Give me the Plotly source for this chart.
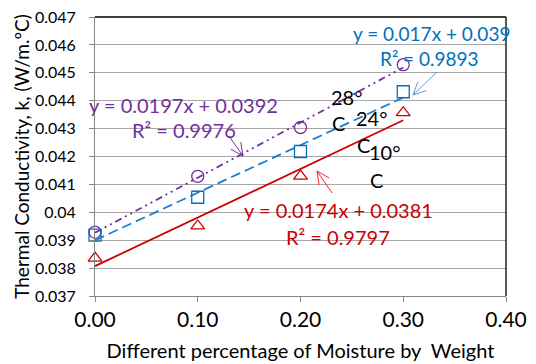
import math
import numpy as np
import plotly.graph_objects as go

# ---- data ----
moisture = [0.0, 0.1, 0.2, 0.3]
k_28C = [0.03929, 0.04129, 0.04304, 0.04529]
k_24C = [0.03918, 0.04054, 0.04218, 0.04432]
k_10C = [0.03836, 0.03951, 0.04130, 0.04357]

y_ticks = [0.037, 0.038, 0.039, 0.040, 0.041, 0.042, 0.043, 0.044, 0.045, 0.046, 0.047]
y_tick_text = ["0.037", "0.038", "0.039", "0.04", "0.041", "0.042", "0.043", "0.044", "0.045", "0.046", "0.047"]
x_ticks = [0.0, 0.1, 0.2, 0.3, 0.4]
x_tick_text = ["0.00", "0.10", "0.20", "0.30", "0.40"]

eq_28 = ["y = 0.0197x + 0.0392", "R² = 0.9976"]
eq_24 = ["y = 0.017x + 0.039", "R² = 0.9893"]
eq_10 = ["y = 0.0174x + 0.0381", "R² = 0.9797"]

PURPLE = "#7030A0"
BLUE = "#0070C0"
BLUE_LINE = "#1B7FCC"
RED = "#CC0000"
FONT = "Lato"

W, H = 536, 364
L, R, T, B = 95, 30, 17, 68
XR = [0, 0.4]
YR = [0.037, 0.047]
pw, ph = W - L - R, H - T - B


def px2d(px, py):
    return (XR[0] + (px - L) / pw * (XR[1] - XR[0]),
            YR[1] - (py - T) / ph * (YR[1] - YR[0]))


fig = go.Figure()

series = [
    (k_28C, PURPLE, PURPLE, "circle-open", "7px,4px,2px,4px,2px,4px"),
    (k_24C, BLUE, BLUE_LINE, "square-open", "10px,5px"),
    (k_10C, RED, RED, "triangle-up-open", "solid"),
]
xs = np.array(moisture)
for ys, mcol, lcol, sym, dash in series:
    slope, icpt = np.polyfit(xs, np.array(ys), 1)
    xfit = np.array([xs.min(), xs.max()])
    fig.add_trace(go.Scatter(x=xfit, y=slope * xfit + icpt, mode="lines",
                             line=dict(color=lcol, width=1.8, dash=dash),
                             showlegend=False, hoverinfo="skip"))
    fig.add_trace(go.Scatter(x=moisture, y=ys, mode="markers",
                             marker=dict(symbol=sym, size=12, color=mcol,
                                         line=dict(width=1.3, color=mcol)),
                             cliponaxis=False, showlegend=False))

annots = []


def add_text(px, py, text, color, size=20):
    x, y = px2d(px, py)
    annots.append(dict(x=x, y=y, xref="x", yref="y", text=text, showarrow=False,
                       font=dict(family=FONT, size=size, color=color),
                       xanchor="center", yanchor="middle"))


add_text(183, 105, eq_28[0], PURPLE)
add_text(184, 130, eq_28[1], PURPLE)
add_text(431, 33, eq_24[0], BLUE, size=19)
add_text(429, 58, eq_24[1], BLUE, size=19)
add_text(338, 210, eq_10[0], RED)
add_text(338, 237, eq_10[1], RED)

for px, py, t in [(347, 97, "28°"), (338, 123, "C"), (372, 118, "24°"), (363, 145, "C"),
                  (385, 152, "10°"), (376, 180, "C")]:
    add_text(px, py, t, "black", size=20)

shapes = []


def add_arrow(tail, tip, color, head=14):
    ang = math.atan2(tail[1] - tip[1], tail[0] - tip[0])
    pts = [tail]
    for da in (0.45, -0.45):
        pts.append((tip[0] + head * math.cos(ang + da), tip[1] + head * math.sin(ang + da)))
    segs = [(tail, tip), (pts[1], tip), (pts[2], tip)]
    for a, b in segs:
        x0, y0 = px2d(*a)
        x1, y1 = px2d(*b)
        shapes.append(dict(type="line", xref="x", yref="y", x0=x0, y0=y0, x1=x1, y1=y1,
                           line=dict(color=color, width=1)))


add_arrow((229, 136), (243, 156), PURPLE)
add_arrow((437, 72), (413, 95), "#5B9BD5")
add_arrow((332, 193), (317, 171), "#FF2020")

# top and right border of plot area
shapes.append(dict(type="line", xref="paper", yref="paper", x0=0, y0=1, x1=1, y1=1,
                   line=dict(color="black", width=1.3)))
shapes.append(dict(type="line", xref="paper", yref="paper", x0=1, y0=0, x1=1, y1=1,
                   line=dict(color="black", width=1.3)))

fig.update_layout(
    width=W, height=H,
    margin=dict(l=L, r=R, t=T, b=B, pad=0),
    paper_bgcolor="white", plot_bgcolor="white",
    font=dict(family=FONT, color="black"),
    annotations=annots, shapes=shapes,
    xaxis=dict(range=XR, tickvals=x_ticks, ticktext=x_tick_text, automargin=False,
               tickfont=dict(size=21, family=FONT), ticks="outside", ticklen=5,
               tickcolor="#868686", showline=True, linecolor="#868686", linewidth=1,
               showgrid=False, zeroline=False,
               title=dict(text="Different percentage of Moisture by  Weight",
                          font=dict(size=20, family=FONT), standoff=13)),
    yaxis=dict(range=YR, tickvals=y_ticks, ticktext=y_tick_text, automargin=False,
               tickfont=dict(size=16, family=FONT), ticks="outside", ticklen=5,
               ticklabelstandoff=10,
               tickcolor="#868686", showline=True, linecolor="#868686", linewidth=1,
               showgrid=True, gridcolor="#A6A6A6", gridwidth=1, zeroline=False,
               title=dict(text="Thermal Conductivity, k, (W/m.ºC)",
                          font=dict(size=19, family=FONT), standoff=0)),
)

fig.write_html("out.html", config={"displayModeBar": False},
               post_script="document.body.style.margin='0';document.body.style.padding='0';")
